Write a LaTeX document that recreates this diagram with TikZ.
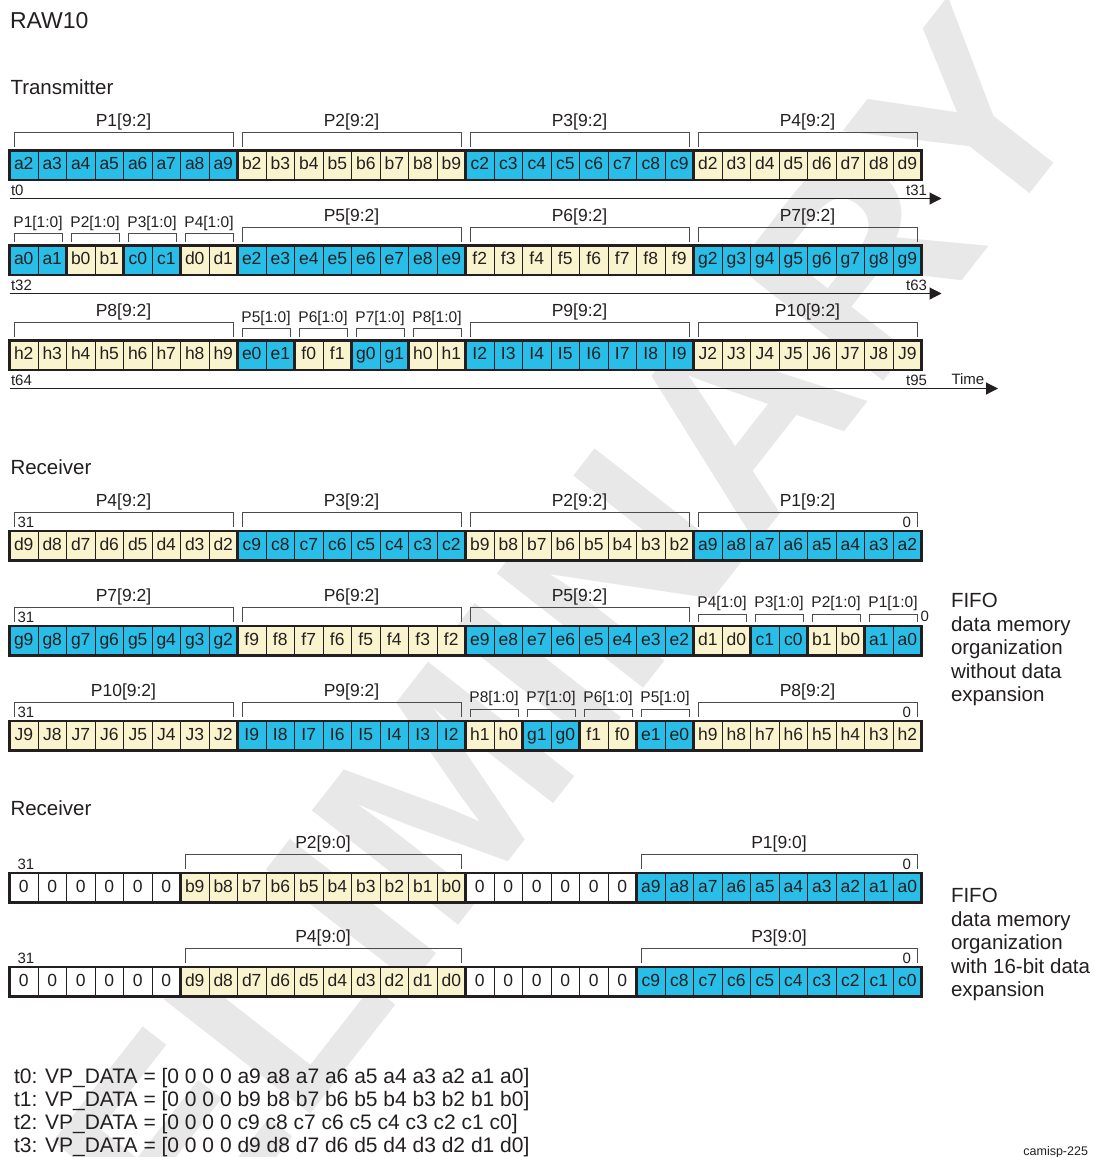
\documentclass[tikz,border=0pt]{standalone}
\usepackage{fontspec}
\setmainfont{Liberation Sans}
\usetikzlibrary{arrows.meta}
\definecolor{cb}{RGB}{41,190,232}
\definecolor{cy}{RGB}{250,244,206}
\definecolor{ln}{RGB}{35,31,32}
\newcommand\fs[1]{\fontsize{#1}{#1}\selectfont}
\newcommand\CellRow[3]{%
  \foreach \lab/\col [count=\i from 0] in {#3}{%
    \node[cellbox,fill=\col] (#1c\i) at ({9.5+(\i+0.5)*28.5},{#2+14.75}) {\lab};
  }%
  \draw[outer] (#1c0.north west) rectangle (#1c31.south east);
}
\newcommand\SepLines[2]{\foreach \k in {#2}{\draw[sepl] (#1c\k.north west) -- (#1c\k.south west);}}
% #1 name, #2 from, #3 to, #4 top, #5 text
\newcommand\BigBrk[5]{%
  \draw[brk] ({9.5+#2*28.5+4.5},{#4-4}) -- ({9.5+#2*28.5+4.5},{#4-18.5}) -- ({9.5+(#3+1)*28.5-4},{#4-18.5}) -- ({9.5+(#3+1)*28.5-4},{#4-4});
  \node[biglab] (#1) at ({9.5+(#2+#3+1)*28.5/2},{#4-24.5}) {#5};
}
\newcommand\SmBrk[5]{%
  \draw[brk] ({9.5+#2*28.5+4.5},{#4-4}) -- ({9.5+#2*28.5+4.5},{#4-12}) -- ({9.5+(#3+1)*28.5-4},{#4-12}) -- ({9.5+(#3+1)*28.5-4},{#4-4});
  \node[smlab] (#1) at ({9.5+(#2+#3+1)*28.5/2},{#4-18.5}) {#5};
}
\begin{document}
\begin{tikzpicture}[x=1pt,y=-1pt,
  every node/.style={inner sep=0pt,outer sep=0pt,text=ln},
  cellbox/.style={draw=ln,line width=0.8pt,minimum width=28.5pt,minimum height=29.5pt,
    text height=12.5pt,text depth=3.5pt,font=\fs{17.5}},
  outer/.style={draw=ln,line width=2.6pt},
  sepl/.style={draw=ln,line width=2.6pt},
  brk/.style={draw=black!70,line width=1pt},
  biglab/.style={anchor=base,font=\fs{17.5}},
  smlab/.style={anchor=base,font=\fs{15.5}},
  tlab/.style={anchor=base west,font=\fs{15}},
  tlabr/.style={anchor=base east,font=\fs{15}},
  title/.style={anchor=base west,font=\fs{20.5}},
  vplab/.style={anchor=base west,font=\fs{21}},
  axisl/.style={draw=ln,line width=1.1pt,-{Triangle[length=12pt,width=12pt]}},
  wm/.style={rotate=52,anchor=base east,text=black!9,font=\fs{270}\bfseries}
]
\useasboundingbox (0,0) rectangle (1094,1157);
\begin{scope}
\clip (0,0) rectangle (1094,1157);
\node[wm] (wm) at (1097,108) {PRELIMINARY};
\end{scope}

% titles
\node[anchor=base west,font=\fs{23}] (raw) at (10,28.3) {RAW10};
\node[title] (tx) at (10.5,94) {Transmitter};
\node[title] (rx1) at (10.5,474) {Receiver};
\node[title] (rx2) at (10.5,815.3) {Receiver};

% ---------- Transmitter row 1
\def\ta{150.5}
\CellRow{T1}{\ta}{a2/cb,a3/cb,a4/cb,a5/cb,a6/cb,a7/cb,a8/cb,a9/cb,b2/cy,b3/cy,b4/cy,b5/cy,b6/cy,b7/cy,b8/cy,b9/cy,c2/cb,c3/cb,c4/cb,c5/cb,c6/cb,c7/cb,c8/cb,c9/cb,d2/cy,d3/cy,d4/cy,d5/cy,d6/cy,d7/cy,d8/cy,d9/cy}
\SepLines{T1}{8,16,24}
\BigBrk{T1b1}{0}{7}{\ta}{P1[9:2]}
\BigBrk{T1b2}{8}{15}{\ta}{P2[9:2]}
\BigBrk{T1b3}{16}{23}{\ta}{P3[9:2]}
\BigBrk{T1b4}{24}{31}{\ta}{P4[9:2]}
\node[tlab] (t0) at (11,195) {t0};
\node[tlabr] (t31) at (927,195) {t31};
\coordinate (a1s) at (9.5,198.5);
\coordinate (a1e) at (941.5,198.5);
\draw[axisl] (a1s) -- (a1e);

% ---------- Transmitter row 2
\def\tb{245.5}
\CellRow{T2}{\tb}{a0/cb,a1/cb,b0/cy,b1/cy,c0/cb,c1/cb,d0/cy,d1/cy,e2/cb,e3/cb,e4/cb,e5/cb,e6/cb,e7/cb,e8/cb,e9/cb,f2/cy,f3/cy,f4/cy,f5/cy,f6/cy,f7/cy,f8/cy,f9/cy,g2/cb,g3/cb,g4/cb,g5/cb,g6/cb,g7/cb,g8/cb,g9/cb}
\SepLines{T2}{2,4,6,8,16,24}
\SmBrk{T2b1}{0}{1}{\tb}{P1[1:0]}
\SmBrk{T2b2}{2}{3}{\tb}{P2[1:0]}
\SmBrk{T2b3}{4}{5}{\tb}{P3[1:0]}
\SmBrk{T2b4}{6}{7}{\tb}{P4[1:0]}
\BigBrk{T2b5}{8}{15}{\tb}{P5[9:2]}
\BigBrk{T2b6}{16}{23}{\tb}{P6[9:2]}
\BigBrk{T2b7}{24}{31}{\tb}{P7[9:2]}
\node[tlab] (t32) at (11,290) {t32};
\node[tlabr] (t63) at (927,290) {t63};
\coordinate (a2s) at (9.5,293.5);
\coordinate (a2e) at (941.5,293.5);
\draw[axisl] (a2s) -- (a2e);

% ---------- Transmitter row 3
\def\tc{340.5}
\CellRow{T3}{\tc}{h2/cy,h3/cy,h4/cy,h5/cy,h6/cy,h7/cy,h8/cy,h9/cy,e0/cb,e1/cb,f0/cy,f1/cy,g0/cb,g1/cb,h0/cy,h1/cy,I2/cb,I3/cb,I4/cb,I5/cb,I6/cb,I7/cb,I8/cb,I9/cb,J2/cy,J3/cy,J4/cy,J5/cy,J6/cy,J7/cy,J8/cy,J9/cy}
\SepLines{T3}{8,10,12,14,16,24}
\BigBrk{T3b1}{0}{7}{\tc}{P8[9:2]}
\SmBrk{T3b2}{8}{9}{\tc}{P5[1:0]}
\SmBrk{T3b3}{10}{11}{\tc}{P6[1:0]}
\SmBrk{T3b4}{12}{13}{\tc}{P7[1:0]}
\SmBrk{T3b5}{14}{15}{\tc}{P8[1:0]}
\BigBrk{T3b6}{16}{23}{\tc}{P9[9:2]}
\BigBrk{T3b7}{24}{31}{\tc}{P10[9:2]}
\node[tlab] (t64) at (11,385) {t64};
\node[tlabr] (t95) at (927,385) {t95};
\node[tlab] (time) at (951.5,384) {Time};
\coordinate (a3s) at (9.5,388.5);
\coordinate (a3e) at (998,388.5);
\draw[axisl] (a3s) -- (a3e);

% ---------- Receiver row 1
\def\ra{531}
\CellRow{R1}{\ra}{d9/cy,d8/cy,d7/cy,d6/cy,d5/cy,d4/cy,d3/cy,d2/cy,c9/cb,c8/cb,c7/cb,c6/cb,c5/cb,c4/cb,c3/cb,c2/cb,b9/cy,b8/cy,b7/cy,b6/cy,b5/cy,b4/cy,b3/cy,b2/cy,a9/cb,a8/cb,a7/cb,a6/cb,a5/cb,a4/cb,a3/cb,a2/cb}
\SepLines{R1}{8,16,24}
\BigBrk{R1b1}{0}{7}{\ra}{P4[9:2]}
\BigBrk{R1b2}{8}{15}{\ra}{P3[9:2]}
\BigBrk{R1b3}{16}{23}{\ra}{P2[9:2]}
\BigBrk{R1b4}{24}{31}{\ra}{P1[9:2]}
\node[tlab] (R1hi) at (17.5,527.5) {31};
\node[tlabr] (R1lo) at (911,527.5) {0};

% ---------- Receiver row 2
\def\rb{626}
\CellRow{R2}{\rb}{g9/cb,g8/cb,g7/cb,g6/cb,g5/cb,g4/cb,g3/cb,g2/cb,f9/cy,f8/cy,f7/cy,f6/cy,f5/cy,f4/cy,f3/cy,f2/cy,e9/cb,e8/cb,e7/cb,e6/cb,e5/cb,e4/cb,e3/cb,e2/cb,d1/cy,d0/cy,c1/cb,c0/cb,b1/cy,b0/cy,a1/cb,a0/cb}
\SepLines{R2}{8,16,24,26,28,30}
\BigBrk{R2b1}{0}{7}{\rb}{P7[9:2]}
\BigBrk{R2b2}{8}{15}{\rb}{P6[9:2]}
\BigBrk{R2b3}{16}{23}{\rb}{P5[9:2]}
\SmBrk{R2b4}{24}{25}{\rb}{P4[1:0]}
\SmBrk{R2b5}{26}{27}{\rb}{P3[1:0]}
\SmBrk{R2b6}{28}{29}{\rb}{P2[1:0]}
\SmBrk{R2b7}{30}{31}{\rb}{P1[1:0]}
\node[tlab] (R2hi) at (17.5,622.5) {31};
\node[tlab] (R2lo) at (920.5,621.5) {0};

% ---------- Receiver row 3
\def\rc{721}
\CellRow{R3}{\rc}{J9/cy,J8/cy,J7/cy,J6/cy,J5/cy,J4/cy,J3/cy,J2/cy,I9/cb,I8/cb,I7/cb,I6/cb,I5/cb,I4/cb,I3/cb,I2/cb,h1/cy,h0/cy,g1/cb,g0/cb,f1/cy,f0/cy,e1/cb,e0/cb,h9/cy,h8/cy,h7/cy,h6/cy,h5/cy,h4/cy,h3/cy,h2/cy}
\SepLines{R3}{8,16,18,20,22,24}
\BigBrk{R3b1}{0}{7}{\rc}{P10[9:2]}
\BigBrk{R3b2}{8}{15}{\rc}{P9[9:2]}
\SmBrk{R3b3}{16}{17}{\rc}{P8[1:0]}
\SmBrk{R3b4}{18}{19}{\rc}{P7[1:0]}
\SmBrk{R3b5}{20}{21}{\rc}{P6[1:0]}
\SmBrk{R3b6}{22}{23}{\rc}{P5[1:0]}
\BigBrk{R3b7}{24}{31}{\rc}{P8[9:2]}
\node[tlab] (R3hi) at (17.5,717.5) {31};
\node[tlabr] (R3lo) at (911,717.5) {0};

% FIFO text 1
\foreach \txt/\yy [count=\j] in {FIFO/607,data memory/631,organization/654.5,without data/678,expansion/701.5}{
  \node[title] (fa\j) at (951,\yy) {\txt};
}

% ---------- 16-bit expansion rows
\def\ea{873}
\CellRow{E1}{\ea}{0/white,0/white,0/white,0/white,0/white,0/white,b9/cy,b8/cy,b7/cy,b6/cy,b5/cy,b4/cy,b3/cy,b2/cy,b1/cy,b0/cy,0/white,0/white,0/white,0/white,0/white,0/white,a9/cb,a8/cb,a7/cb,a6/cb,a5/cb,a4/cb,a3/cb,a2/cb,a1/cb,a0/cb}
\SepLines{E1}{6,16,22}
\BigBrk{E1b1}{6}{15}{\ea}{P2[9:0]}
\BigBrk{E1b2}{22}{31}{\ea}{P1[9:0]}
\node[tlab] (E1hi) at (17.5,869.5) {31};
\node[tlabr] (E1lo) at (911,869.5) {0};

\def\eb{967}
\CellRow{E2}{\eb}{0/white,0/white,0/white,0/white,0/white,0/white,d9/cy,d8/cy,d7/cy,d6/cy,d5/cy,d4/cy,d3/cy,d2/cy,d1/cy,d0/cy,0/white,0/white,0/white,0/white,0/white,0/white,c9/cb,c8/cb,c7/cb,c6/cb,c5/cb,c4/cb,c3/cb,c2/cb,c1/cb,c0/cb}
\SepLines{E2}{6,16,22}
\BigBrk{E2b1}{6}{15}{\eb}{P4[9:0]}
\BigBrk{E2b2}{22}{31}{\eb}{P3[9:0]}
\node[tlab] (E2hi) at (17.5,963.5) {31};
\node[tlabr] (E2lo) at (911,963.5) {0};

% FIFO text 2
\foreach \txt/\yy [count=\j] in {FIFO/902,data memory/926,organization/949.5,with 16-bit data/973,expansion/996.5}{
  \node[title] (fb\j) at (951,\yy) {\txt};
}

% VP_DATA lines
\node[vplab] (vp0) at (14,1083) {t0: VP\_DATA = [0 0 0 0 a9 a8 a7 a6 a5 a4 a3 a2 a1 a0]};
\node[vplab] (vp1) at (14,1106) {t1: VP\_DATA = [0 0 0 0 b9 b8 b7 b6 b5 b4 b3 b2 b1 b0]};
\node[vplab] (vp2) at (14,1129) {t2: VP\_DATA = [0 0 0 0 c9 c8 c7 c6 c5 c4 c3 c2 c1 c0]};
\node[vplab] (vp3) at (14,1152) {t3: VP\_DATA = [0 0 0 0 d9 d8 d7 d6 d5 d4 d3 d2 d1 d0]};
\node[anchor=base east,font=\fs{12.5}] (cam) at (1088,1155) {camisp-225};
\end{tikzpicture}
\end{document}
